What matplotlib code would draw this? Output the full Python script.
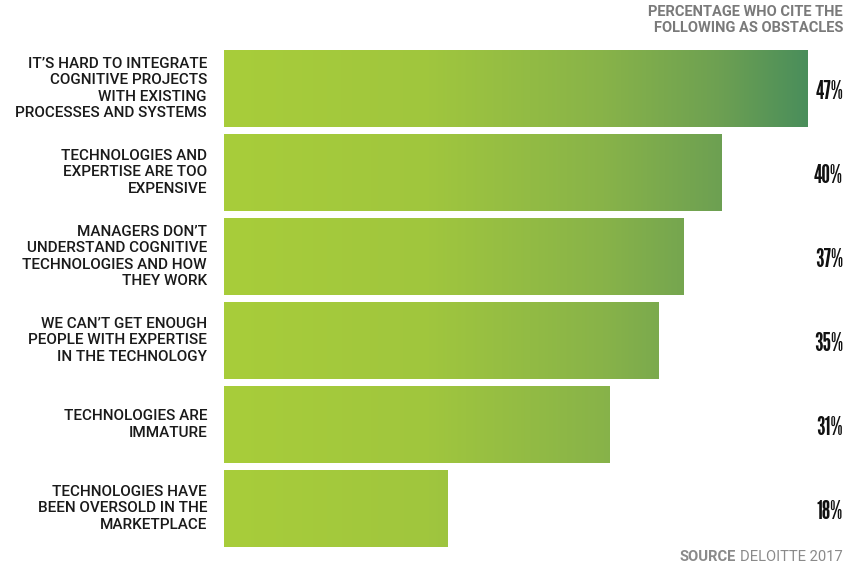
import matplotlib
matplotlib.use("Agg")
import matplotlib.pyplot as plt
import numpy as np
from matplotlib.colors import LinearSegmentedColormap
from matplotlib.transforms import blended_transform_factory

categories = [
    "IT\u2019S HARD TO INTEGRATE\nCOGNITIVE PROJECTS\nWITH EXISTING\nPROCESSES AND SYSTEMS",
    "TECHNOLOGIES AND\nEXPERTISE ARE TOO\nEXPENSIVE",
    "MANAGERS DON\u2019T\nUNDERSTAND COGNITIVE\nTECHNOLOGIES AND HOW\nTHEY WORK",
    "WE CAN\u2019T GET ENOUGH\nPEOPLE WITH EXPERTISE\nIN THE TECHNOLOGY",
    "TECHNOLOGIES ARE\nIMMATURE",
    "TECHNOLOGIES HAVE\nBEEN OVERSOLD IN THE\nMARKETPLACE",
]
values = [47, 40, 37, 35, 31, 18]
value_labels = ["47%", "40%", "37%", "35%", "31%", "18%"]

W, H = 861, 565
fig = plt.figure(figsize=(W / 100, H / 100), dpi=100)
fig.patch.set_facecolor("white")

ax_left, ax_right = 224 / W, 808 / W
ax_top, ax_bot = 1 - 50 / H, 1 - 547 / H
ax = fig.add_axes([ax_left, ax_bot, ax_right - ax_left, ax_top - ax_bot])
bh = 77 / 84
ylim = (len(values) - 1 + bh / 2, -bh / 2)
ax.axis("off")

cmap = LinearSegmentedColormap.from_list(
    "g",
    [(0.0, "#a8cd3a"), (0.35, "#a0c63e"), (0.65, "#88b349"),
     (0.85, "#6da052"), (1.0, "#4a8e5b")],
)
grad = np.linspace(0, 1, 512).reshape(1, -1)

y = np.arange(len(values))
bars = ax.barh(y, values, height=bh, color="none", edgecolor="none")
for b in bars:
    im = ax.imshow(grad, cmap=cmap, aspect="auto",
                   extent=(0, max(values), ylim[0], ylim[1]),
                   interpolation="bicubic")
    im.set_clip_path(b)
ax.set_xlim(0, max(values))
ax.set_ylim(*ylim)

label_font = ["Roboto", "DejaVu Sans"]
value_font = ["League Gothic", "Barlow Condensed", "DejaVu Sans"]
trans = blended_transform_factory(fig.transFigure, ax.transData)
for i, (cat, lab) in enumerate(zip(categories, value_labels)):
    ax.text(207 / W, i, cat, transform=trans, ha="right", va="center",
            fontsize=11, fontweight="medium", family=label_font,
            color="#1a1a1a", linespacing=1.2)
    ax.text(843 / W, i + 0.04, lab, transform=trans, ha="right", va="center",
            fontsize=17.5, family=value_font, color="#111111")

fig.text(843 / W, 1 - 20 / H, "PERCENTAGE WHO CITE THE\nFOLLOWING AS OBSTACLES",
         ha="right", va="center", fontsize=10.5, fontweight="bold",
         family=label_font, color="#7a7a7a", linespacing=1.1)

src_y = 1 - 557 / H
t2 = fig.text(843 / W, src_y, "DELOITTE 2017", ha="right", va="center",
              fontsize=10.6, family=label_font, color="#8a8a8a")
fig.canvas.draw()
bb = t2.get_window_extent()
fig.text(bb.x0 / W - 4 / W, src_y, "SOURCE", ha="right", va="center",
         fontsize=10.6, fontweight="bold", family=label_font, color="#8a8a8a")

fig.savefig("out.png", dpi=100, facecolor="white")
